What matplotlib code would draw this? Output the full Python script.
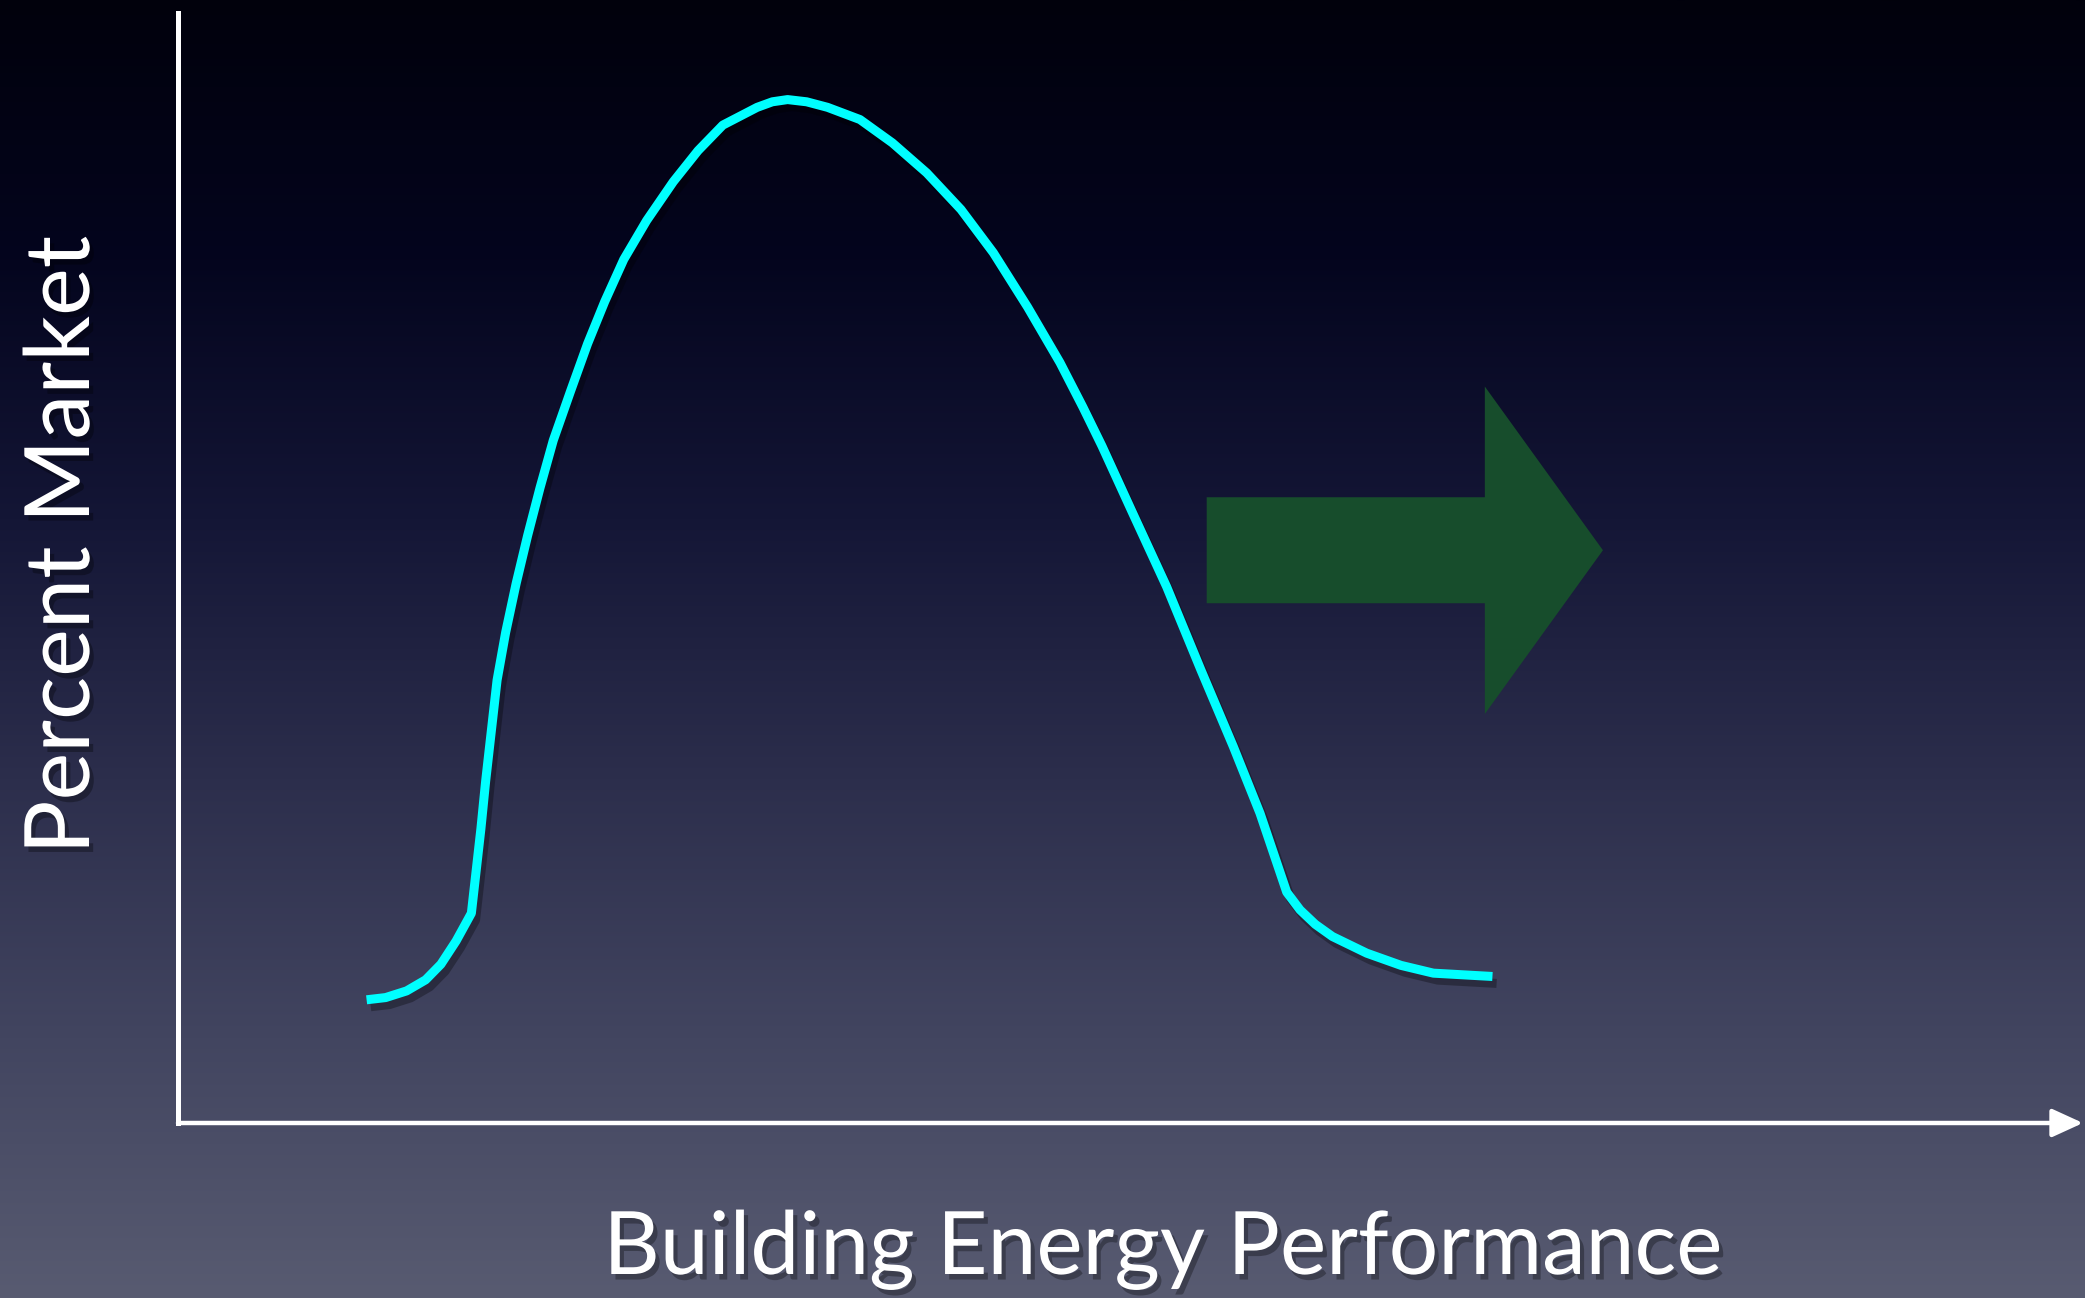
"""
Market distribution of building energy performance, shifting to the right.
"""
import numpy as np
import matplotlib
matplotlib.use('Agg')
import matplotlib.pyplot as plt
import matplotlib.patheffects as pe
from matplotlib.patches import FancyArrow

# curve: x = energy performance (0-100), y = percent market (0-100)
perf = [9.9, 10.9, 12.0, 13.0, 13.8, 14.6, 15.4,
        15.9, 16.15, 16.4, 16.75, 17.2, 17.75, 18.35, 19.0, 19.7, 20.6, 21.5,
        22.4, 23.4, 24.6, 26.0, 27.3, 28.6, 30.4, 31.2, 32.0,
        33.0, 34.1, 35.8, 37.5, 39.3, 41.1, 42.8, 44.6, 46.3, 47.5, 48.5,
        50.1, 51.9, 53.7, 55.4, 56.8, 58.2,
        58.9, 59.7, 60.6, 62.4, 64.2, 65.9, 69.0]
market = [11.1, 11.3, 11.9, 12.9, 14.3, 16.4, 18.9,
          26.5, 30.8, 34.6, 39.9, 44.2, 48.6, 52.9, 57.2, 61.5, 65.9, 70.2,
          74.0, 77.8, 81.3, 84.8, 87.6, 89.9, 91.5, 92.0, 92.2,
          92.0, 91.5, 90.4, 88.3, 85.6, 82.3, 78.4, 73.5, 68.5, 64.5, 61.0,
          55.0, 48.3, 40.8, 33.9, 27.9, 20.8,
          19.2, 17.9, 16.8, 15.3, 14.2, 13.5, 13.2]

# green "shift" arrow, in the same units
shift_from = 54.0
shift_to = 74.8
shift_y = 51.6

xlabel = 'Building Energy Performance'
ylabel = 'Percent Market'

fig = plt.figure(figsize=(20.85, 12.98), dpi=100)

# background gradient, dark navy on top to slate grey at the bottom
bg = fig.add_axes([0, 0, 1, 1])
stops = [0.0, 0.2, 0.4, 0.6, 0.8, 1.0]
reds = [1, 4, 20, 44, 66, 88]
greens = [1, 5, 22, 46, 69, 91]
blues = [12, 30, 54, 76, 96, 113]
rows = np.linspace(0, 1, 600)
grad = np.stack([np.interp(rows, stops, reds),
                 np.interp(rows, stops, greens),
                 np.interp(rows, stops, blues)], axis=1) / 255.0
bg.imshow(grad[:, None, :], aspect='auto', extent=[0, 1, 0, 1], origin='upper')
bg.axis('off')

ax = fig.add_axes([178 / 2085, 1 - 1123 / 1298, 1905 / 2085, 1110 / 1298])
ax.set_xlim(0, 100)
ax.set_ylim(0, 100)
ax.patch.set_alpha(0)
ax.axis('off')

# axes: plain vertical line, arrowed horizontal line
ax.plot([0, 0], [0, 100], color='white', lw=3.6, clip_on=False,
        solid_capstyle='projecting')
ax.annotate('', xy=(100, 0), xytext=(0, 0), xycoords='data',
            arrowprops=dict(arrowstyle='-|>,head_length=0.94,head_width=0.43',
                            mutation_scale=20, color='white', lw=3.2,
                            shrinkA=0, shrinkB=0),
            annotation_clip=False)

ax.add_patch(FancyArrow(shift_from, shift_y, shift_to - shift_from, 0,
                        width=9.55, head_width=29.5, head_length=6.2,
                        length_includes_head=True, color='#174d2c', lw=0))

shadow = [pe.SimpleLineShadow(offset=(3, -5), shadow_color='black', alpha=0.3),
          pe.Normal()]
ax.plot(perf, market, color='#00ffff', lw=6.5, solid_joinstyle='round',
        solid_capstyle='butt', path_effects=shadow)

txt_shadow = [pe.withSimplePatchShadow(offset=(3, -4), shadow_rgbFace='black',
                                       alpha=0.3)]
fig.text(64 / 2085, 1 - 545 / 1298, ylabel, rotation=90, color='white',
         fontsize=65, family='Lato', ha='center', va='center',
         path_effects=txt_shadow)
fig.text(1163 / 2085, 1 - 1274 / 1298, xlabel, color='white',
         fontsize=63, family='Lato', ha='center', va='baseline',
         path_effects=txt_shadow)

plt.savefig('out.png', dpi=100)
